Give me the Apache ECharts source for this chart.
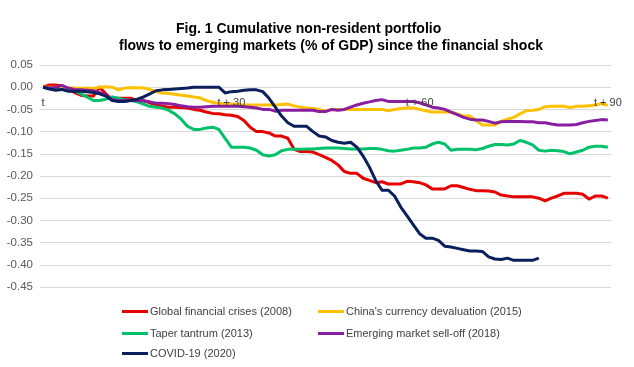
<!DOCTYPE html>
<html>
<head>
<meta charset="utf-8">
<script src="https://cdn.jsdelivr.net/npm/echarts@6/dist/echarts.min.js"></script>
<style>
html,body{margin:0;padding:0;background:#fff;}
#chart{width:634px;height:367px;}
</style>
</head>
<body>
<div id="chart"></div>
<script>
// Day offsets after the shock (t .. t + 90)
var dayCount = 91;
var tickLabels = ['t', 't + 30', 't + 60', 't + 90'];
var seriesNames = [
  'Global financial crises (2008)',
  "China's currency devaluation (2015)",
  'Taper tantrum (2013)',
  'Emerging market sell-off (2018)',
  'COVID-19 (2020)'
];

var gfc2008 = [0.000,0.005,0.005,0.003,-0.005,-0.012,-0.018,-0.020,-0.020,0.000,
  -0.015,-0.028,-0.025,-0.025,-0.025,-0.030,-0.030,-0.035,-0.040,-0.043,
  -0.045,-0.045,-0.046,-0.047,-0.050,-0.052,-0.056,-0.059,-0.060,-0.062,
  -0.063,-0.066,-0.075,-0.090,-0.100,-0.100,-0.103,-0.110,-0.110,-0.115,
  -0.140,-0.145,-0.145,-0.146,-0.152,-0.158,-0.165,-0.175,-0.190,-0.194,
  -0.194,-0.205,-0.210,-0.215,-0.213,-0.218,-0.218,-0.218,-0.212,-0.213,
  -0.215,-0.220,-0.229,-0.229,-0.229,-0.222,-0.222,-0.226,-0.230,-0.233,
  -0.233,-0.234,-0.236,-0.243,-0.245,-0.247,-0.247,-0.247,-0.247,-0.250,
  -0.256,-0.250,-0.245,-0.239,-0.239,-0.239,-0.241,-0.252,-0.245,-0.245,-0.250];

var china2015 = [0.000,0.000,0.000,-0.002,-0.002,-0.002,-0.003,-0.002,-0.003,0.000,
  0.001,0.000,-0.006,-0.002,-0.001,-0.001,-0.002,-0.005,-0.010,-0.013,
  -0.014,-0.016,-0.018,-0.020,-0.022,-0.024,-0.030,-0.034,-0.036,-0.037,
  -0.038,-0.039,-0.040,-0.040,-0.040,-0.040,-0.040,-0.040,-0.039,-0.038,
  -0.042,-0.045,-0.047,-0.048,-0.050,-0.054,-0.050,-0.050,-0.050,-0.050,
  -0.050,-0.050,-0.050,-0.050,-0.050,-0.053,-0.050,-0.048,-0.047,-0.047,
  -0.050,-0.053,-0.056,-0.056,-0.056,-0.056,-0.060,-0.065,-0.065,-0.075,
  -0.085,-0.085,-0.085,-0.077,-0.072,-0.068,-0.060,-0.053,-0.052,-0.050,
  -0.044,-0.043,-0.043,-0.043,-0.046,-0.043,-0.043,-0.042,-0.040,-0.037,-0.041];

var taper2013 = [0.000,-0.003,-0.005,-0.005,-0.008,-0.008,-0.015,-0.022,-0.030,-0.030,
  -0.027,-0.022,-0.025,-0.028,-0.030,-0.033,-0.038,-0.043,-0.045,-0.047,
  -0.052,-0.060,-0.072,-0.088,-0.095,-0.095,-0.092,-0.090,-0.095,-0.115,
  -0.135,-0.135,-0.135,-0.137,-0.142,-0.152,-0.155,-0.152,-0.143,-0.140,
  -0.140,-0.140,-0.139,-0.139,-0.138,-0.137,-0.137,-0.137,-0.138,-0.139,
  -0.139,-0.139,-0.138,-0.138,-0.140,-0.143,-0.144,-0.142,-0.140,-0.137,
  -0.137,-0.135,-0.128,-0.124,-0.128,-0.142,-0.140,-0.140,-0.140,-0.141,
  -0.138,-0.133,-0.129,-0.129,-0.130,-0.128,-0.120,-0.124,-0.130,-0.142,
  -0.144,-0.142,-0.143,-0.145,-0.150,-0.146,-0.142,-0.135,-0.133,-0.133,-0.135];

var emSelloff2018 = [0.000,-0.002,0.000,0.004,-0.002,-0.005,-0.006,-0.007,-0.008,-0.012,
  -0.018,-0.028,-0.030,-0.030,-0.030,-0.030,-0.031,-0.033,-0.036,-0.036,
  -0.037,-0.039,-0.042,-0.044,-0.045,-0.045,-0.044,-0.043,-0.043,-0.043,
  -0.043,-0.043,-0.044,-0.045,-0.047,-0.050,-0.050,-0.054,-0.052,-0.052,
  -0.052,-0.052,-0.052,-0.052,-0.055,-0.055,-0.050,-0.052,-0.050,-0.045,
  -0.040,-0.036,-0.033,-0.030,-0.028,-0.032,-0.032,-0.032,-0.032,-0.032,
  -0.035,-0.040,-0.045,-0.047,-0.050,-0.056,-0.062,-0.068,-0.072,-0.074,
  -0.074,-0.077,-0.081,-0.078,-0.077,-0.077,-0.077,-0.078,-0.078,-0.080,
  -0.080,-0.083,-0.085,-0.085,-0.085,-0.084,-0.080,-0.077,-0.075,-0.073,-0.074];

var covid2020 = [0.000,-0.004,-0.007,-0.005,-0.009,-0.009,-0.009,-0.010,-0.012,-0.015,
  -0.020,-0.030,-0.032,-0.032,-0.030,-0.027,-0.022,-0.015,-0.008,-0.006,
  -0.005,-0.004,-0.003,-0.002,0.000,0.000,0.000,0.000,0.000,-0.013,
  -0.010,-0.009,-0.007,-0.006,-0.006,-0.010,-0.025,-0.045,-0.065,-0.080,
  -0.088,-0.088,-0.088,-0.100,-0.110,-0.112,-0.120,-0.124,-0.126,-0.124,
  -0.135,-0.155,-0.180,-0.210,-0.232,-0.232,-0.245,-0.270,-0.290,-0.310,
  -0.330,-0.340,-0.340,-0.345,-0.358,-0.360,-0.363,-0.366,-0.369,-0.369,
  -0.370,-0.382,-0.387,-0.388,-0.385,-0.390,-0.390,-0.390,-0.390,-0.385];

var categories = [];
for (var d = 0; d < dayCount; d++) categories.push(d === 0 ? 't' : 't + ' + d);

var colors = ['#e60000', '#ffc000', '#00c06a', '#8a1ea0', '#0a1f5c'];
var dataList = [gfc2008, china2015, taper2013, emSelloff2018, covid2020];

var legendPos = [
  {left: 122, top: 306},
  {left: 318, top: 306},
  {left: 122, top: 328},
  {left: 318, top: 328},
  {left: 122, top: 348}
];

var legends = seriesNames.map(function (n, i) {
  return {
    data: [n], left: legendPos[i].left, top: legendPos[i].top,
    icon: 'rect', itemWidth: 26, itemHeight: 3, itemGap: 0,
    padding: 0, selectedMode: false,
    textStyle: {fontFamily: 'Liberation Sans', fontSize: 11, color: '#404040', padding: [0,0,0,-3]}
  };
});

var chart = echarts.init(document.getElementById('chart'), null, {renderer: 'canvas'});
chart.setOption({
  backgroundColor: '#ffffff',
  animation: false,
  title: [
    {text: 'Fig. 1 Cumulative non-resident portfolio', left: 176, top: 22, padding: 0,
     textStyle: {fontFamily: 'Liberation Sans', fontWeight: 'bold', fontSize: 14, color: '#000'}},
    {text: 'flows to emerging markets (% of GDP) since the financial shock', left: 119, top: 39, padding: 0,
     textStyle: {fontFamily: 'Liberation Sans', fontWeight: 'bold', fontSize: 14, color: '#000'}}
  ],
  legend: legends,
  grid: {left: 40, right: 23, top: 65, bottom: 80, containLabel: false},
  xAxis: {
    type: 'category', data: categories, boundaryGap: true,
    position: 'bottom', offset: -200, z: 5,
    axisLine: {show: false, onZero: false},
    axisTick: {show: false},
    axisLabel: {
      interval: 29, margin: 10, color: '#404040', fontSize: 11, fontFamily: 'Liberation Sans',
      formatter: function (v, idx) { return tickLabels[idx / 30] || ''; }
    },
    splitLine: {show: false}
  },
  yAxis: {
    type: 'value', min: -0.45, max: 0.05, interval: 0.05,
    axisLine: {show: false}, axisTick: {show: false},
    axisLabel: {
      margin: 7, color: '#595959', fontSize: 11.5, fontFamily: 'Liberation Sans',
      formatter: function (v) { if (Math.abs(v) < 1e-9) v = 0; return v.toFixed(2); }
    },
    splitLine: {lineStyle: {color: '#d9d9d9', width: 1}}
  },
  series: dataList.map(function (arr, i) {
    return {
      name: seriesNames[i], type: 'line', data: arr, z: 2,
      showSymbol: false, symbol: 'none', smooth: false,
      lineStyle: {color: colors[i], width: 3, join: 'round'},
      itemStyle: {color: colors[i]},
      emphasis: {disabled: true}
    };
  })
});
</script>
</body>
</html>
